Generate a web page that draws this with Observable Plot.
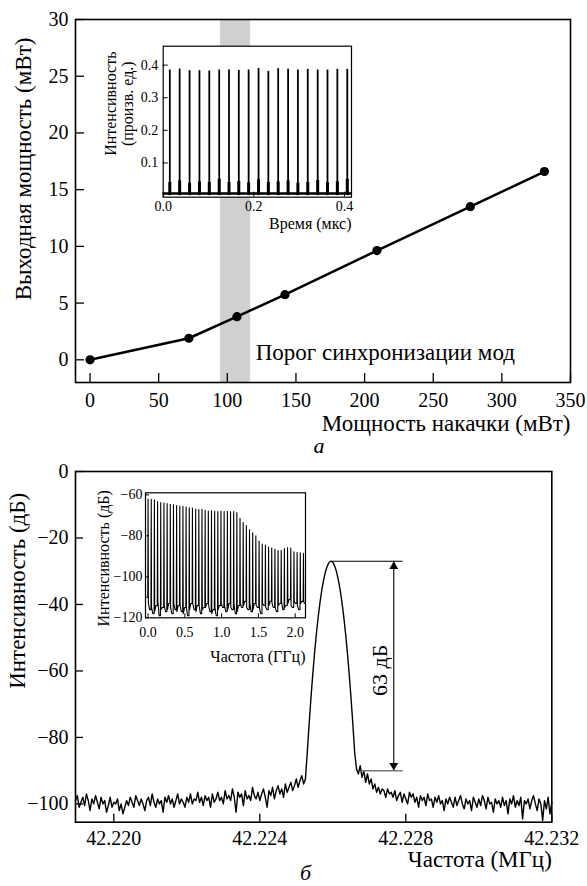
<!DOCTYPE html>
<html><head><meta charset="utf-8">
<script src="https://cdn.jsdelivr.net/npm/d3@7"></script>
<script src="https://cdn.jsdelivr.net/npm/@observablehq/plot@0.6"></script>
<style>
body{margin:0;background:#fff;}
#c{position:relative;width:587px;height:886px;background:#fff;overflow:hidden;}
#c > div{position:absolute;}
#c svg{overflow:visible;}
</style></head><body><div id="c"></div>
<script>
// ---------- Panel (a): output power vs pump power ----------
const pumpPower = [0, 72, 107, 142, 209, 277, 331];
const outputPower = [0, 1.9, 3.8, 5.74, 9.63, 13.5, 16.6];
const thresholdBand = [95, 117];
const thresholdLabel = "Порог синхронизации мод";
const pumpTicks = [0, 50, 100, 150, 200, 250, 300, 350];
const outTicks = [0, 5, 10, 15, 20, 25, 30];
const panelALabels = {x: "Мощность накачки (мВт)", y: "Выходная мощность (мВт)", caption: "а"};

// inset (a): pulse train
const pulseTimes = [0.0146, 0.0363, 0.0582, 0.0800, 0.1017, 0.1236, 0.1452, 0.1668, 0.1885, 0.2104, 0.2320, 0.2537, 0.2756, 0.2972, 0.3190, 0.3409, 0.3625, 0.3843, 0.4062];
const pulseHeights = [0.385, 0.388, 0.383, 0.383, 0.382, 0.385, 0.385, 0.384, 0.385, 0.390, 0.381, 0.389, 0.387, 0.385, 0.387, 0.385, 0.385, 0.387, 0.387];
const pulseFoot = [0.040, 0.045, 0.038, 0.042, 0.040, 0.050, 0.040, 0.043, 0.039, 0.048, 0.040, 0.042, 0.045, 0.038, 0.040, 0.046, 0.039, 0.042, 0.050];
const pulseBaseline = 0.006;
const timeTicks = [0, 0.2, 0.4];
const pulseIntTicks = [0.1, 0.2, 0.3, 0.4];
const insetALabels = {x: "Время (мкс)", y: "Интенсивность\n(произв. ед.)"};

// ---------- Panel (b): RF spectrum ----------
const rfStart = 42.21895, rfStep = 0.00005;
const rfLevel = [
 -99,-97.5,-101,-99.5,-98,-100.5,-97,-99,-102,-98.5,-100,-97.5,-99.5,-101.5,-98,-100,-99,-102.5,-100.5,-98,
 -101,-99.5,-100,-98.5,-102,-100,-103,-101,-99,-100.5,-98,-99.5,-101,-97.5,-99,-100.5,-98.5,-100,-102,-99,
 -98,-100.5,-97,-99.5,-101,-98.5,-100,-99,-102.5,-98,-99.5,-97.5,-100,-98.5,-101,-99,-97,-100,-98.5,-99.5,
 -101,-98,-99.5,-97,-100,-98.5,-99,-96.5,-99.5,-98,-100.5,-97.5,-99,-98,-101,-97,-99.5,-98.5,-96.5,-99,
 -98,-100,-96,-98.5,-97.5,-99,-95.5,-98,-102.5,-96.5,-98,-97,-100.5,-96,-98.5,-97.5,-99,-95,-97.5,-98.5,
 -96.5,-99,-97,-95.5,-98,-101,-96,-97.5,-95,-98.5,-96,-94.5,-97,-95.5,-98,-94,-96.5,-95,-93.5,-96,
 -94.5,-92.5,-95,-93,-91.5,-94,-92.5,
 -84.6,-76.1,-68.3,-61.1,-54.6,-48.8,-43.7,-39.3,-35.5,-32.5,-30.1,-28.4,-27.3,-27,-27.3,-28.4,-30.1,-32.5,-35.5,-39.3,-43.7,-48.8,-54.6,-61.1,-68.3,-76.1,-84.6,
 -89.5,-91,-88.5,-92,-90,-93.5,-91,-94,-92.5,-95.5,-94,-96.5,-95,-97,-95.5,-96,-98,-95.5,-97,-96.5,
 -98,-96,-99,-97.5,-96.5,-99.5,-97,-98.5,-100,-96.5,-98,-97,-99.5,-98,-101,-97.5,-99,-98,-100.5,-97,
 -99,-98.5,-101,-98,-99.5,-97.5,-100,-99,-102,-98.5,-100,-98,-99.5,-101,-98,-100.5,-99,-97.5,-100,-101.5,
 -98.5,-100,-99,-102,-98,-99.5,-101,-98.5,-100.5,-97.5,-99,-101.5,-98,-100,-99.5,-102.5,-98.5,-100,-99,-101,
 -98,-100.5,-99,-103,-98.5,-100,-97.5,-101,-99,-100.5,-98,-104.5,-99,-100,-98.5,-101.5,-99,-97.5,-100,-102,
 -98.5,-100,-105,-99,-101.5,-98,-103,-99.5
];
const rfTicks = [42.220, 42.224, 42.228, 42.232];
const dbTicks = [0, -20, -40, -60, -80, -100];
const snr = {x: 42.22767, top: -27, bottom: -90, peakX: 42.22595, lineEnd: 42.22793, greyStart: 42.2268, textX: 42.22728, textY: -59.8, text: "63 дБ"};
const panelBLabels = {x: "Частота (МГц)", y: "Интенсивность (дБ)", caption: "б"};

// inset (b): comb spectrum
const combFreq = [0, 0.043, 0.086, 0.129, 0.172, 0.216, 0.259, 0.302, 0.345, 0.388, 0.431, 0.474, 0.517, 0.560, 0.603, 0.647, 0.690, 0.733, 0.776, 0.819, 0.862, 0.905, 0.948, 0.991, 1.034, 1.078, 1.121, 1.164, 1.207, 1.250, 1.293, 1.336, 1.379, 1.422, 1.465, 1.509, 1.552, 1.595, 1.638, 1.681, 1.724, 1.767, 1.810, 1.853, 1.896, 1.940, 1.983, 2.026, 2.069, 2.112];
const combPeak = [-62, -62.2, -62.5, -63.3, -63.8, -64, -64.3, -64.6, -64.8, -65.2, -65.5, -65.6, -66, -66.3, -66.4, -66.9, -67.2, -67.1, -67.6, -67.9, -67.8, -68, -68.1, -67.9, -68.2, -68, -68.3, -68.1, -68.6, -71.5, -73.5, -75, -77, -78.5, -80, -82.5, -84, -84.5, -85.5, -86, -86.5, -87.2, -87, -86.2, -85.8, -86, -87.8, -88, -88.3, -88.5];
const combFloor = [-116, -118, -114, -119, -115, -117, -113, -118, -116, -114, -117, -115, -119, -113, -116, -114, -118, -115, -113, -117, -116, -119, -114, -115, -117, -113, -116, -118, -114, -115, -112, -116, -117, -113, -115, -118, -114, -116, -112, -115, -117, -113, -116, -114, -111, -115, -113, -116, -112, -113];
const combFloorMid = [-113, -115, -117, -112, -116, -114, -116, -115, -113, -117, -114, -118, -115, -116, -113, -117, -114, -116, -115, -114, -118, -115, -116, -113, -114, -116, -115, -113, -117, -113, -114, -115, -113, -116, -114, -115, -113, -115, -114, -113, -115, -114, -112, -115, -113, -114, -112, -114, -113, -112];
const combStartLevel = -110;
const ghzTicks = [0, 0.5, 1.0, 1.5, 2.0];
const combDbTicks = [-60, -80, -100, -120];
const insetBLabels = {x: "Частота (ГГц)", y: "Интенсивность (дБ)"};

// ---------- rendering ----------
const FONT = '"Liberation Serif", "Times New Roman", serif';
const c = document.getElementById("c");
function place(svg, left, top) {
  const d = document.createElement("div");
  d.style.left = left + "px"; d.style.top = top + "px";
  d.appendChild(svg); c.appendChild(d);
}
const minus = d => d < 0 ? "\u2212" + Math.abs(d) : String(d);
const TITLE = 23, TICK = 20, ITITLE = 16, ITICK = 14;

// Panel (a)
{
  const W = 587, H = 460, m = {top: 19, right: 17, bottom: 78, left: 75};
  const pw = W - m.left - m.right, ph = H - m.top - m.bottom;
  const xd = [-10.6, 350], yd = [-2, 30];
  const pts = pumpPower.map((p, i) => ({p, o: outputPower[i]}));
  const svg = Plot.plot({
    width: W, height: H, marginTop: m.top, marginRight: m.right, marginBottom: m.bottom, marginLeft: m.left,
    style: {fontFamily: FONT, fontSize: TICK + "px", background: "transparent", color: "black", overflow: "visible"},
    x: {domain: xd, ticks: pumpTicks, tickSize: 0, tickPadding: 10, label: null},
    y: {domain: yd, ticks: outTicks, tickSize: 0, tickPadding: 7, label: null},
    marks: [
      Plot.rect([thresholdBand], {x1: d => d[0], x2: d => d[1], y1: yd[0], y2: yd[1], fill: "#d0d0d2"}),
      Plot.frame({stroke: "black", strokeWidth: 1.6}),
      Plot.tickX(pumpTicks, {x: d => d, insetTop: ph - 9, stroke: "black", strokeWidth: 1.3}),
      Plot.tickY(outTicks, {y: d => d, insetRight: pw - 9, stroke: "black", strokeWidth: 1.3}),
      Plot.line(pts, {x: "p", y: "o", stroke: "black", strokeWidth: 2.5}),
      Plot.dot(pts, {x: "p", y: "o", r: 4.6, fill: "black"}),
      Plot.text([thresholdLabel], {text: d => d, x: thresholdBand[1], y: 0, dx: 5, dy: -7, textAnchor: "start", fontSize: TITLE}),
      Plot.text([panelALabels.x], {text: d => d, frameAnchor: "bottom-right", dy: 48, textAnchor: "end", fontSize: TITLE}),
      Plot.text([panelALabels.y], {text: d => d, frameAnchor: "left", dx: -52, dy: -32, rotate: -90, textAnchor: "middle", fontSize: TITLE}),
      Plot.text([panelALabels.caption], {text: d => d, frameAnchor: "bottom", textAnchor: "middle", dx: -4, dy: 70, fontSize: 22, fontStyle: "italic"})
    ]
  });
  place(svg, 0, 0);
}

// Inset (a)
{
  const W = 290, H = 205, m = {top: 15.7, right: 29, bottom: 38.3, left: 72.7};
  const pw = W - m.left - m.right, ph = H - m.top - m.bottom;
  const pulses = pulseTimes.map((t, i) => ({t, h: pulseHeights[i], f: pulseFoot[i]}));
  const svg = Plot.plot({
    width: W, height: H, marginTop: m.top, marginRight: m.right, marginBottom: m.bottom, marginLeft: m.left,
    style: {fontFamily: FONT, fontSize: ITICK + "px", background: "transparent", color: "black", overflow: "visible"},
    x: {domain: [0, 0.4155], ticks: timeTicks, tickFormat: d3.format(".1f"), tickSize: 0, tickPadding: 4, label: null},
    y: {domain: [-0.005, 0.458], ticks: pulseIntTicks, tickFormat: d3.format(".1f"), tickSize: 0, tickPadding: 5, label: null},
    marks: [
      Plot.frame({fill: "white", stroke: "none"}),
      Plot.ruleY([pulseBaseline], {stroke: "black", strokeWidth: 2.5}),
      Plot.ruleX(pulses, {x: "t", y1: 0, y2: "f", stroke: "black", strokeWidth: 3}),
      Plot.ruleX(pulses, {x: "t", y1: 0, y2: "h", stroke: "black", strokeWidth: 1.8}),
      Plot.frame({stroke: "black", strokeWidth: 1.2}),
      Plot.tickX(timeTicks, {x: d => d, insetTop: ph - 5, stroke: "black"}),
      Plot.tickY(pulseIntTicks, {y: d => d, insetRight: pw - 5, stroke: "black"}),
      Plot.text([insetALabels.x], {text: d => d, frameAnchor: "bottom-right", dy: 32, textAnchor: "end", fontSize: ITITLE}),
      Plot.text([insetALabels.y], {text: d => d, frameAnchor: "left", dx: -44, dy: -18, rotate: -90, textAnchor: "middle", fontSize: ITITLE, lineHeight: 1.05})
    ]
  });
  place(svg, 90, 30);
}

// Panel (b)
{
  const top = 455;
  const W = 587, H = 886 - top, m = {top: 16, right: 35.7, bottom: 64.3, left: 75};
  const pw = W - m.left - m.right, ph = H - m.top - m.bottom;
  const trace = rfLevel.map((v, i) => ({f: rfStart + i * rfStep, v}));
  const svg = Plot.plot({
    width: W, height: H, marginTop: m.top, marginRight: m.right, marginBottom: m.bottom, marginLeft: m.left,
    style: {fontFamily: FONT, fontSize: TICK + "px", background: "transparent", color: "black", overflow: "visible"},
    x: {domain: [rfStart, 42.232], ticks: rfTicks, tickFormat: d3.format(".3f"), tickSize: 0, tickPadding: 9, label: null},
    y: {domain: [-105.5, 0], ticks: dbTicks, tickFormat: minus, tickSize: 0, tickPadding: 7, label: null},
    marks: [
      Plot.frame({stroke: "black", strokeWidth: 1.6}),
      Plot.tickX(rfTicks, {x: d => d, insetTop: ph - 8, stroke: "black", strokeWidth: 1.3}),
      Plot.tickY(dbTicks, {y: d => d, insetRight: pw - 8, stroke: "black", strokeWidth: 1.3}),
      Plot.line(trace, {x: "f", y: "v", stroke: "black", strokeWidth: 1.4}),
      Plot.ruleY([snr], {y: "top", x1: "peakX", x2: "lineEnd", stroke: "black", strokeWidth: 1.1}),
      Plot.ruleY([snr], {y: "bottom", x1: "greyStart", x2: "lineEnd", stroke: "#7a7a7a", strokeWidth: 1.6}),
      Plot.ruleX([snr], {x: "x", y1: "top", y2: "bottom", stroke: "black", strokeWidth: 1.1}),
      Plot.dot([snr], {x: "x", y: "top", symbol: "triangle", r: 3.3, fill: "black", dy: 5.2}),
      Plot.dot([snr], {x: "x", y: "bottom", symbol: "triangle", r: 3.3, fill: "black", rotate: 180, dy: -5.2}),
      Plot.text([snr], {x: "textX", y: "textY", text: "text", rotate: -90, fontSize: 22}),
      Plot.text([panelBLabels.x], {text: d => d, frameAnchor: "bottom-right", dy: 45, textAnchor: "end", fontSize: TITLE}),
      Plot.text([panelBLabels.y], {text: d => d, frameAnchor: "left", dx: -58, dy: -56, rotate: -90, textAnchor: "middle", fontSize: TITLE}),
      Plot.text([panelBLabels.caption], {text: d => d, frameAnchor: "bottom", textAnchor: "middle", dx: -8, dy: 58, fontSize: 22, fontStyle: "italic"})
    ]
  });
  place(svg, 0, top);
}

// Inset (b)
{
  const W = 240, H = 200, m = {top: 22.3, right: 15, bottom: 52.7, left: 65};
  const pw = W - m.left - m.right, ph = H - m.top - m.bottom;
  const comb = [{f: -0.035, v: combStartLevel}];
  combFreq.forEach((f, i) => {
    const prev = i > 0 ? combFloor[i - 1] : combStartLevel;
    const next = i + 1 < combFreq.length ? combFreq[i + 1] : 2.14;
    comb.push({f: f - 0.004, v: prev});
    comb.push({f, v: combPeak[i]});
    comb.push({f: f + 0.004, v: combFloorMid[i]});
    comb.push({f: (f + next) / 2, v: combFloor[i]});
  });
  const svg = Plot.plot({
    width: W, height: H, marginTop: m.top, marginRight: m.right, marginBottom: m.bottom, marginLeft: m.left,
    style: {fontFamily: FONT, fontSize: ITICK + "px", background: "transparent", color: "black", overflow: "visible"},
    x: {domain: [-0.035, 2.14], ticks: ghzTicks, tickFormat: d3.format(".1f"), tickSize: 0, tickPadding: 9, label: null},
    y: {domain: [-120, -59], ticks: combDbTicks, tickFormat: minus, tickSize: 0, tickPadding: 3, label: null},
    marks: [
      Plot.frame({fill: "white", stroke: "none"}),
      Plot.line(comb, {x: "f", y: "v", stroke: "black", strokeWidth: 1.1}),
      Plot.frame({stroke: "black", strokeWidth: 1.2}),
      Plot.tickX(ghzTicks, {x: d => d, insetTop: ph - 4, stroke: "black"}),
      Plot.tickY(combDbTicks, {y: d => d, insetRight: pw - 4, stroke: "black"}),
      Plot.text([insetBLabels.x], {text: d => d, frameAnchor: "bottom-right", dy: 44, textAnchor: "end", fontSize: ITITLE}),
      Plot.text([insetBLabels.y], {text: d => d, frameAnchor: "left", dx: -42, dy: 3, rotate: -90, textAnchor: "middle", fontSize: ITITLE})
    ]
  });
  place(svg, 80, 470);
}
</script></body></html>
